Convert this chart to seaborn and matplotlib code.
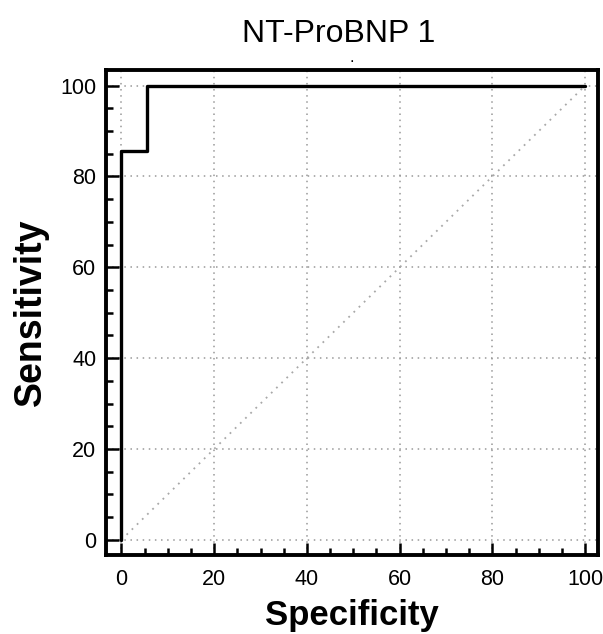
import numpy as np
import pandas as pd
import matplotlib
matplotlib.use("Agg")
import matplotlib.pyplot as plt
import seaborn as sns
from matplotlib.ticker import MultipleLocator

# ROC step curve
specificity = [0, 0, 5.6, 5.6, 100]
sensitivity = [0, 85.7, 85.7, 100, 100]
diag = [0, 100]
ticks = [0, 20, 40, 60, 80, 100]

sns.set_style("ticks", {"xtick.direction": "in", "ytick.direction": "in",
                        "xtick.color": "black", "ytick.color": "black",
                        "text.color": "black", "axes.labelcolor": "black",
                        "axes.edgecolor": "black"})
plt.rcParams['font.family'] = ['Liberation Sans', 'DejaVu Sans']

fig = plt.figure(figsize=(6.03, 6.34), dpi=100)
ax = fig.add_axes([0.176, 0.125, 0.816, 0.765])

roc = pd.DataFrame({"x": specificity, "y": sensitivity})
ax.plot(diag, diag, color="#a8a8a8", lw=1.3, ls=(0, (1, 3)))
sns.lineplot(data=roc, x="x", y="y", sort=False, estimator=None,
             color="black", lw=2.4, ax=ax)

ax.set_xlim(-3.3, 102.8)
ax.set_ylim(-3.3, 103.5)
ax.set_xticks(ticks)
ax.set_yticks(ticks)
ax.xaxis.set_minor_locator(MultipleLocator(5))
ax.yaxis.set_minor_locator(MultipleLocator(5))
ax.tick_params(which="major", direction="in", length=9, width=1.8,
               labelsize=15.5, pad=7, colors="black", bottom=True, left=True)
ax.tick_params(axis="x", which="major", pad=10)
ax.tick_params(which="minor", direction="in", length=5, width=1.8,
               colors="black", bottom=True, left=True)
ax.grid(True, which="major", color="#999999", ls=(0, (1, 3)), lw=1.1)
for s in ax.spines.values():
    s.set_linewidth(2.8)
    s.set_color("black")
    s.set_visible(True)

ax.set_xlabel("Specificity", fontsize=25, fontweight="bold", labelpad=7)
ax.set_ylabel("Sensitivity", fontsize=27, fontweight="bold", labelpad=8)
fig.text(0.562, 0.934, "NT-ProBNP 1", ha="center", va="baseline", fontsize=23)
fig.text(0.584, 0.902, ".", ha="center", fontsize=12)

plt.savefig("out.png", dpi=100)
